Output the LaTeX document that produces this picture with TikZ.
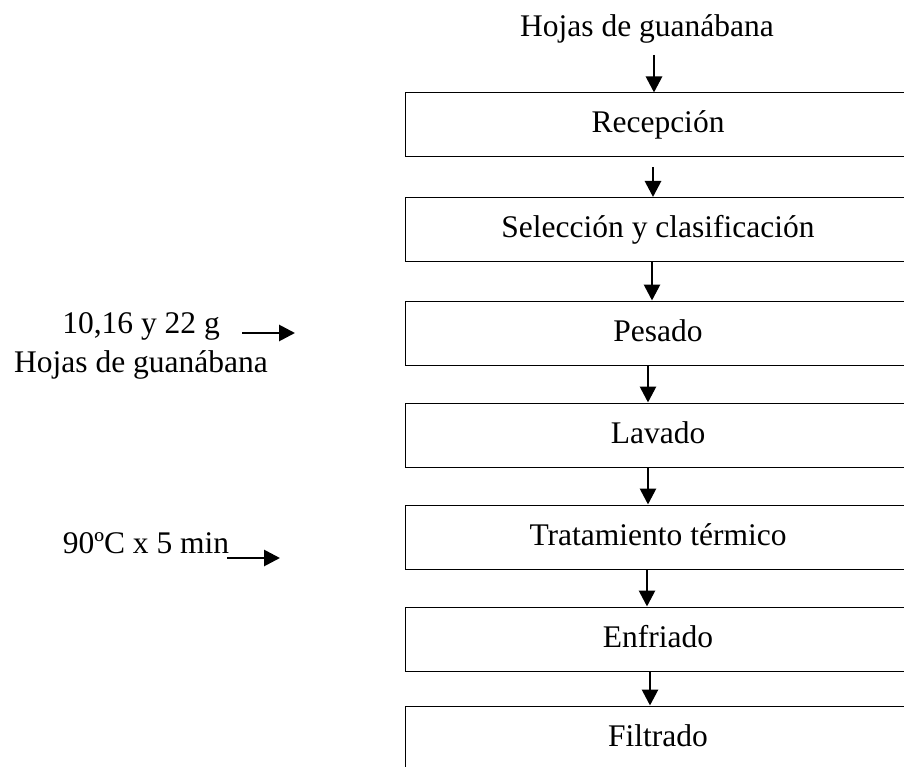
\documentclass[tikz,border=0pt]{standalone}
\usepackage{fontspec}
\setmainfont{Liberation Serif}
\usetikzlibrary{arrows.meta}
\begin{document}
\begin{tikzpicture}[x=1pt,y=-1pt,
  txt/.style={font=\fontsize{31.5}{38}\selectfont},
  box/.style={draw, line width=1pt, minimum width=506pt, minimum height=64pt,
    inner sep=0pt, text height=22pt, text depth=6pt, txt},
  lbl/.style={inner sep=0pt, anchor=base, txt},
  arr/.style={line width=2.8pt, -{Triangle[length=16pt,width=16pt]}}]
\useasboundingbox (0,0) rectangle (904,767);
\clip (0,0) rectangle (904,767);
\fill[white] (0,0) rectangle (904,767);

\node[lbl] (top) at (647,37) {Hojas de guanábana};
\node[box] (b1) at (658,125) {Recepción};
\node[box] (b2) at (658,229.5) {Selección y clasificación};
\node[box] (b3) at (658,333) {Pesado};
\node[box] (b4) at (658,435) {Lavado};
\node[box] (b5) at (658,537) {Tratamiento térmico};
\node[box] (b6) at (658,639) {Enfriado};
\node[box] (b7) at (658,738) {Filtrado};

\node[lbl] (l1) at (141,333) {10,16 y 22 g};
\node[lbl] (l2) at (141,372) {Hojas de guanábana};
\node[lbl] (l3) at (146,553) {90ºC x 5 min};

\coordinate (t0) at (654,55);
\draw[arr] (t0) -- (t0 |- b1.north);
\draw[arr] ([shift={(-5,10)}]b1.south) -- ([xshift=-5]b2.north);
\draw[arr] ([xshift=-6]b2.south) -- ([xshift=-6]b3.north);
\draw[arr] ([xshift=-10]b3.south) -- ([xshift=-10]b4.north);
\draw[arr] ([xshift=-10]b4.south) -- ([xshift=-10]b5.north);
\draw[arr] ([xshift=-11]b5.south) -- ([xshift=-11]b6.north);
\draw[arr] ([xshift=-8]b6.south) -- ([xshift=-8]b7.north);

\coordinate (a1s) at (242,333);
\coordinate (a1e) at (295,333);
\draw[arr] (a1s) -- (a1e);
\coordinate (a2s) at (227,558);
\coordinate (a2e) at (280,558);
\draw[arr] (a2s) -- (a2e);
\end{tikzpicture}
\end{document}
